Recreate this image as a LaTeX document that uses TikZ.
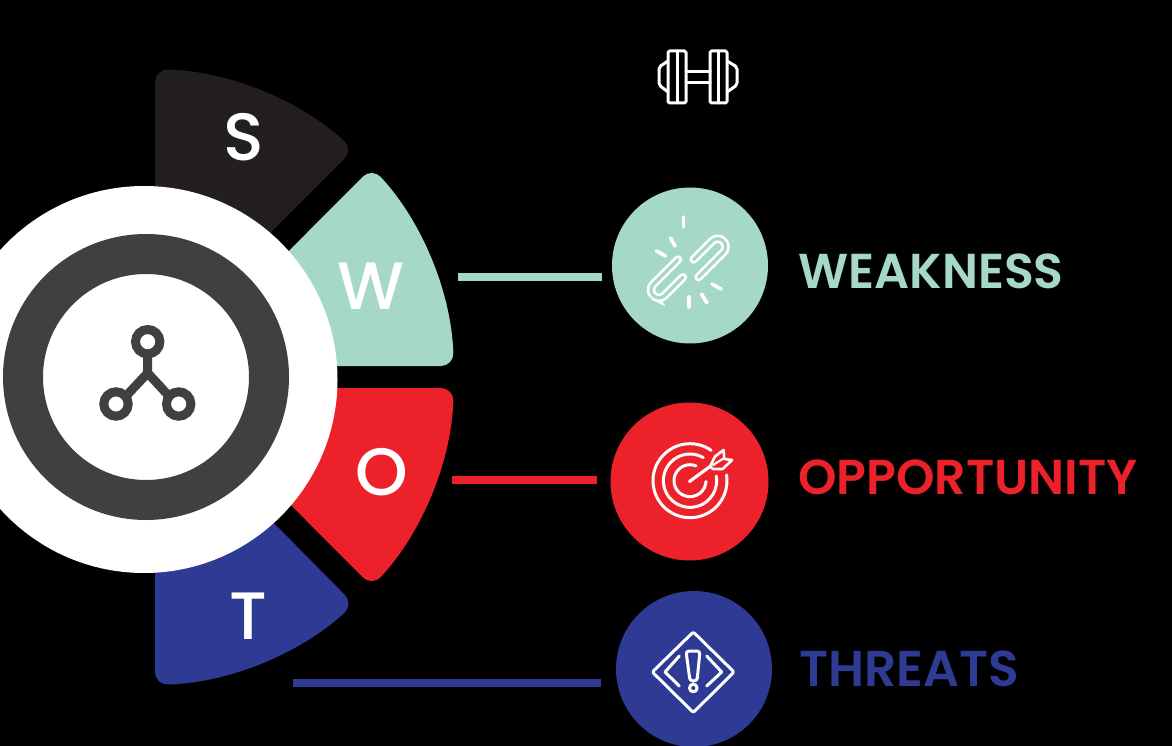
\documentclass[tikz,border=0pt]{standalone}
\usepackage{fontspec}
\newfontfamily\swotfont{Poppins Medium}
\newfontfamily\wordfont{Poppins SemiBold}
\definecolor{swotdark}{HTML}{231F20}
\definecolor{swotmint}{HTML}{A5D8C6}
\definecolor{swotred}{HTML}{ED2129}
\definecolor{swotblue}{HTML}{2E3A94}
\definecolor{hubgray}{HTML}{404040}
\tikzset{
    sector/.style={rounded corners=13pt},
    lettertext/.style={text=white, font=\swotfont\fontsize{67}{67}\selectfont, inner sep=0pt},
    wordtext/.style={anchor=base west, inner sep=0pt, font=\wordfont\fontsize{49}{50}\selectfont},
    iconcircle/.style={circle, minimum size=156pt, inner sep=0pt},
    iconline/.style={draw=white, line width=3pt, line cap=round, line join=round},
    linkshape/.style={draw=white, line width=2.6pt, double=swotmint, double distance=3.2pt, line cap=round},
    wire/.style={line width=8pt, shorten >=10pt}
}
\begin{document}
\begin{tikzpicture}[x=1pt, y=-1pt]
    \useasboundingbox (0,0) rectangle (1172,746);
    \fill[black] (0,0) rectangle (1172,746);
    % Sectores
    \fill[swotdark, sector] (155,260) -- (155,69.1) arc[start angle=-88.3, end angle=-47.6, radius=308] -- (253,250) -- cycle;
    \fill[swotmint, sector] (250,366) -- (453.8,366) arc[start angle=-2, end angle=-42.8, radius=308] -- (250,290) -- cycle;
    \fill[swotred, sector] (250,388) -- (453.8,388) arc[start angle=2, end angle=42.8, radius=308] -- (250,464) -- cycle;
    \fill[swotblue, sector] (155,494) -- (155,684.9) arc[start angle=88.3, end angle=47.5, radius=308] -- (253,502) -- cycle;
    % Centro
    \fill[white] (144,379.5) circle (193.5);
    \draw[hubgray, line width=40pt] (146,377) circle (123);
    \draw[hubgray, line width=9pt] (147.7,341.7) circle (12.2);
    \draw[hubgray, line width=9pt] (116,404) circle (12.2);
    \draw[hubgray, line width=9pt] (178.7,404) circle (12.2);
    \draw[hubgray, line width=9pt] (147.7,355) -- (147.7,373) -- (127,395);
    \draw[hubgray, line width=9pt] (147.7,373) -- (168,395);
    % Letras
    \node[lettertext] (sletter) at (243.5,137) {S};
    \node[lettertext] (wletter) at (371,286) {W};
    \node[lettertext] (oletter) at (382,472) {O};
    \node[lettertext] (tletter) at (248,616) {T};
    % Circulos con icono
    \node[iconcircle, fill=swotmint] (wicon) at (690,265.5) {};
    \node[iconcircle, fill=swotred, minimum size=158pt] (oicon) at (689.5,481.5) {};
    \node[iconcircle, fill=swotblue] (ticon) at (694,669) {};
    % Palabras
    \node[wordtext, text=swotmint] (wword) at (798,288.5) {WEAKNESS};
    \node[wordtext, text=swotred] (oword) at (798,494) {OPPORTUNITY};
    \node[wordtext, text=swotblue, font=\wordfont\fontsize{50.3}{50}\selectfont] (tword) at (799,686.5) {THREATS};
    % Conectores
    \coordinate (wstart) at (458,277);
    \coordinate (ostart) at (452,479.5);
    \coordinate (tstart) at (293,683);
    \draw[wire, swotmint] (wstart) -- (wstart -| wicon.west);
    \draw[wire, swotred, shorten >=13pt] (ostart) -- (ostart -| oicon.west);
    \draw[wire, swotblue, shorten >=15pt] (tstart) -- (tstart -| ticon.west);
    % Mancuerna
    \draw[iconline, rounded corners=1.5pt] (668,51) rectangle (686,103);
    \draw[iconline, rounded corners=1.5pt] (710,51) rectangle (727,103);
    \draw[iconline] (677,51) -- (677,103);
    \draw[iconline] (718.5,51) -- (718.5,103);
    \draw[iconline] (686,72) -- (710,72) (686,83) -- (710,83);
    \draw[iconline, rounded corners=2pt] (668,61) -- (659,67) -- (659,85) -- (668,92);
    \draw[iconline, rounded corners=2pt] (727,61) -- (737,67) -- (737,85) -- (727,92);
    % Eslabones
    \begin{scope}[shift={(688.3,268.3)}, rotate=45]
        \draw[linkshape, rounded corners=8pt] (-1,-13.5) -- (-44,-13.5) -- (-44,2.5) -- (-10,2.5);
        \draw[linkshape, rounded corners=8pt] (1,13.5) -- (44,13.5) -- (44,-2.5) -- (10,-2.5);
    \end{scope}
    \draw[iconline, line width=3.6pt] (683.3,217) -- (683.3,227);
    \draw[iconline, line width=3.6pt] (670.5,238) -- (675,246);
    \draw[iconline, line width=3.6pt] (656.5,251) -- (665.5,256);
    \draw[iconline, line width=3.6pt] (689,297) -- (689,307);
    \draw[iconline, line width=3.6pt] (701.5,294) -- (707,303);
    \draw[iconline, line width=3.6pt] (712,284) -- (721,289);
    % Diana
    \draw[iconline] (690,480.7) ++(-55:37) arc[start angle=-55, end angle=-369, radius=37];
    \draw[iconline] (690,480.7) ++(-60:26.7) arc[start angle=-60, end angle=-370, radius=26.7];
    \draw[iconline] (690,480.7) ++(-68:16) arc[start angle=-68, end angle=-357, radius=16];
    \draw[iconline, line width=3.2pt] (689.5,481.5) -- (710,466.5);
    \draw[iconline, line width=2.6pt] (710,466.5) -- (715,456.5) -- (723.5,450) -- (724.3,459) -- (732,460) -- (722.7,469) -- (713.3,469) -- cycle;
    \draw[iconline, line width=2.2pt] (713,465) -- (723.5,458.5);
    % Aviso
    \draw[iconline, rounded corners=2pt] (693.3,632) -- (734,672) -- (693.3,712.5) -- (652.3,672) -- cycle;
    \draw[iconline] (679.3,656) -- (665,672) -- (679.3,686);
    \draw[iconline] (706.7,656) -- (721.7,672) -- (706.7,686);
    \draw[iconline, rounded corners=3pt] (686,651) -- (700,651) -- (697,681) -- (690,681) -- cycle;
    \draw[iconline] (693.3,688) circle (3.8);
\end{tikzpicture}
\end{document}
